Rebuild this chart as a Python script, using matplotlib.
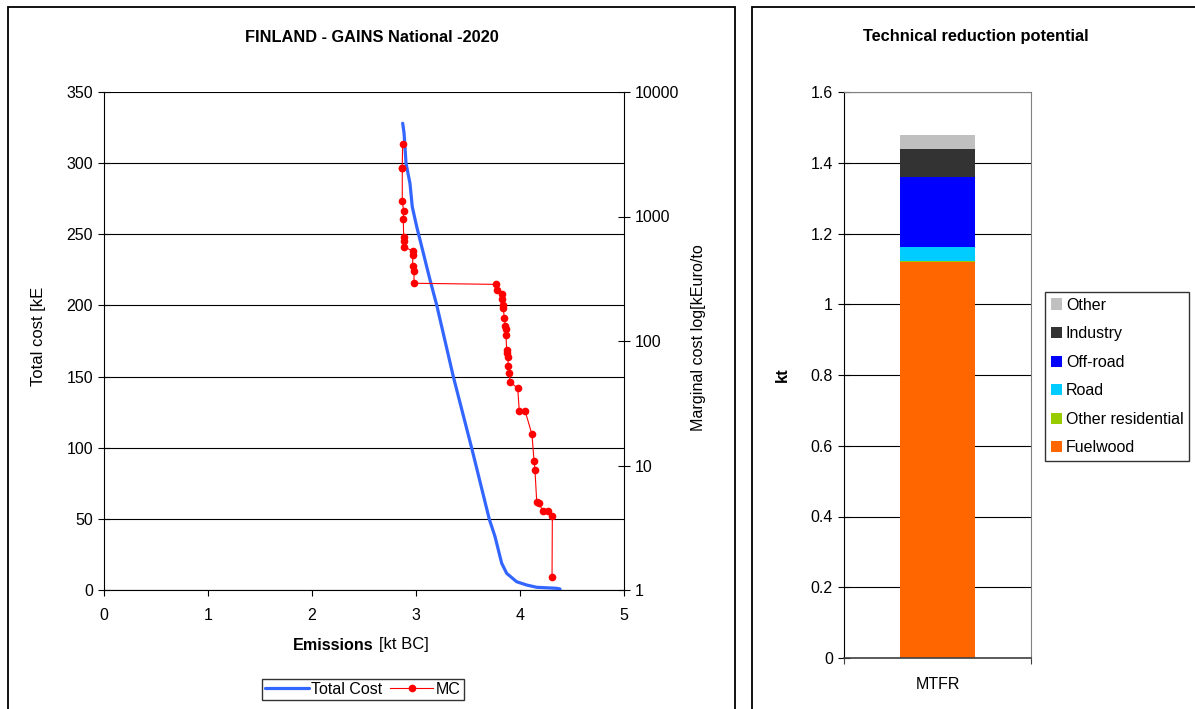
import matplotlib
matplotlib.use("Agg")
import matplotlib.pyplot as plt
from matplotlib.patches import Rectangle
from matplotlib.ticker import FixedLocator, FuncFormatter, NullLocator

plt.rcParams['font.family'] = ['Liberation Sans', 'DejaVu Sans']

# ---- data: left chart ----
tc_x = [2.872, 2.885, 2.904, 2.942, 2.964, 3.007, 3.055, 3.103, 3.135, 3.199, 3.359,
        3.536, 3.705, 3.760, 3.808, 3.824, 3.872, 3.968, 4.064, 4.161, 4.353, 4.385]
tc_y = [328.0, 321.2, 299.9, 285.8, 269.4, 255.3, 241.3, 227.2, 217.9, 200.3, 149.9,
        99.6, 49.7, 37.5, 23.4, 18.8, 11.7, 5.8, 3.5, 1.9, 1.2, 0.7]

mc_x = [2.871, 2.868, 2.868, 2.868, 2.881, 2.878, 2.881, 2.881, 2.881, 2.970, 2.970,
        2.967, 2.981, 2.981, 3.769, 3.776, 3.824, 3.830, 3.834, 3.839, 3.849, 3.859,
        3.863, 3.865, 3.872, 3.878, 3.882, 3.888, 3.897, 3.904, 3.978, 3.993, 4.048,
        4.115, 4.135, 4.144, 4.161, 4.183, 4.218, 4.269, 4.311, 4.308]
mc_y = [3800, 2470, 2440, 1340, 1100, 955, 690, 630, 572, 528, 488,
        400, 367, 291, 285, 257, 239, 216, 195, 183, 154, 132,
        125, 111, 84.7, 79.6, 74, 63, 55, 47, 41.7, 27.6, 27.6,
        17.8, 10.9, 9.2, 5.06, 4.97, 4.33, 4.33, 3.95, 1.28]

left_yticks = [0, 50, 100, 150, 200, 250, 300, 350]
right_yticks = [1, 10, 100, 1000, 10000]
xticks = [0, 1, 2, 3, 4, 5]

# ---- data: right chart ----
bar_category = "MTFR"
sectors = ["Fuelwood", "Other residential", "Road", "Off-road", "Industry", "Other"]
sector_values = [1.119, 0.002, 0.040, 0.200, 0.077, 0.040]
sector_colors = ["#ff6600", "#99cc00", "#00ccff", "#0000ff", "#333333", "#c0c0c0"]
bar_yticks = [0, 0.2, 0.4, 0.6, 0.8, 1, 1.2, 1.4, 1.6]

TICK_FS = 11.5
LAB_FS = 12

W, H = 1195, 709
fig = plt.figure(figsize=(W / 100, H / 100), dpi=100)

def fx(px):
    return px / W

def fy(py):
    return 1 - py / H

# panel frames
fig.patches.append(Rectangle((fx(8), fy(712)), fx(735) - fx(8), fy(7) - fy(712),
                             transform=fig.transFigure, fill=False, lw=1.3, ec='black'))
fig.patches.append(Rectangle((fx(752), fy(712)), fx(1210) - fx(752), fy(7) - fy(712),
                             transform=fig.transFigure, fill=False, lw=1.3, ec='black'))

# ---------------- left chart ----------------
ax = fig.add_axes([fx(104), fy(590), fx(624) - fx(104), fy(92) - fy(590)])
ax.set_xlim(0, 5)
ax.set_ylim(0, 350)
ax.set_xticks(xticks)
ax.set_yticks(left_yticks)
ax.yaxis.grid(True, color='black', lw=0.8)
ax.set_axisbelow(True)
for s in ['top', 'right']:
    ax.spines[s].set_visible(False)
ax.spines['left'].set_color('black')
ax.spines['bottom'].set_color('black')
ax.tick_params(axis='y', direction='inout', length=8, labelsize=TICK_FS, pad=4)
ax.tick_params(axis='x', direction='out', length=4, labelsize=TICK_FS, pad=9)
l1, = ax.plot(tc_x, tc_y, color='#3366ff', lw=2.3, solid_capstyle='round', label='Total Cost')

ax2 = ax.twinx()
ax2.set_yscale('log')
ax2.set_ylim(1, 10000)
ax2.yaxis.set_major_locator(FixedLocator(right_yticks))
ax2.yaxis.set_minor_locator(NullLocator())
ax2.yaxis.set_major_formatter(FuncFormatter(lambda v, p: f"{int(round(v))}"))
for s in ['top', 'left', 'bottom']:
    ax2.spines[s].set_visible(False)
ax2.spines['right'].set_color('black')
ax2.tick_params(axis='y', direction='inout', length=8, labelsize=TICK_FS, pad=4)
l2, = ax2.plot(mc_x, mc_y, color='#ff0000', lw=0.8, marker='o', markersize=5.5,
               markeredgewidth=0, label='MC')

fig.text(fx(372), fy(37), "FINLAND - GAINS National -2020", ha='center', va='center',
         fontsize=11.8, fontweight='bold')
fig.text(fx(39), fy(336), "Total cost [kE", rotation=90, ha='center', va='center', fontsize=LAB_FS)
fig.text(fx(699), fy(338), "Marginal cost log[kEuro/to", rotation=90, ha='center',
         va='center', fontsize=11.6)
fig.text(fx(374), fy(645), "Emissions", ha='right', va='center', fontsize=11.6, fontweight='bold')
fig.text(fx(379), fy(645), "[kt BC]", ha='left', va='center', fontsize=LAB_FS)

leg = fig.legend(handles=[l1, l2], loc='center', bbox_to_anchor=(fx(363), fy(689.5)),
                 ncol=2, frameon=True, fancybox=False, fontsize=11.5, handlelength=2.7,
                 handletextpad=0.15, columnspacing=0.5, borderpad=0.2, borderaxespad=0)
leg.get_frame().set_edgecolor('black')
leg.get_frame().set_linewidth(1.0)

# ---------------- right chart ----------------
bx = fig.add_axes([fx(844), fy(658), fx(1031) - fx(844), fy(92) - fy(658)])
bottom = 0.0
handles = []
for name, val, col in zip(sectors, sector_values, sector_colors):
    h = bx.bar([0], [val], bottom=bottom, width=0.4, color=col, label=name)
    handles.append(h)
    bottom += val
bx.set_xlim(-0.5, 0.5)
bx.set_ylim(0, 1.6)
bx.set_yticks(bar_yticks)
bx.yaxis.set_major_formatter(FuncFormatter(lambda v, p: f"{v:g}"))
bx.yaxis.grid(True, color='black', lw=0.8)
bx.set_axisbelow(True)
bx.set_xticks([-0.5, 0.5])
bx.set_xticklabels(["", ""])
bx.set_xticks([0], minor=True)
bx.set_xticklabels([bar_category], minor=True)
bx.tick_params(axis='x', which='minor', length=0, labelsize=TICK_FS, pad=14)
bx.tick_params(axis='x', which='major', direction='out', length=4, color='#404040')
bx.tick_params(axis='y', direction='inout', length=8, labelsize=TICK_FS, pad=4)
bx.spines['top'].set_color('#808080')
bx.spines['right'].set_color('#808080')
bx.spines['left'].set_color('black')
bx.spines['bottom'].set_color('#404040')
bx.spines['bottom'].set_linewidth(1.2)

fig.text(fx(976), fy(36), "Technical reduction potential", ha='center', va='center',
         fontsize=11.8, fontweight='bold')
fig.text(fx(782), fy(375), "kt", rotation=90, ha='center', va='center', fontsize=LAB_FS,
         fontweight='bold')

leg2 = fig.legend(handles=handles[::-1], labels=sectors[::-1], loc='upper left',
                  bbox_to_anchor=(fx(1045), fy(292)), frameon=True, fancybox=False,
                  fontsize=11.5, handlelength=0.7, handleheight=0.7, handletextpad=0.25,
                  labelspacing=0.85, borderpad=0.35, borderaxespad=0)
leg2.get_frame().set_edgecolor('black')
leg2.get_frame().set_linewidth(1.0)

fig.savefig("out.png", dpi=100)
